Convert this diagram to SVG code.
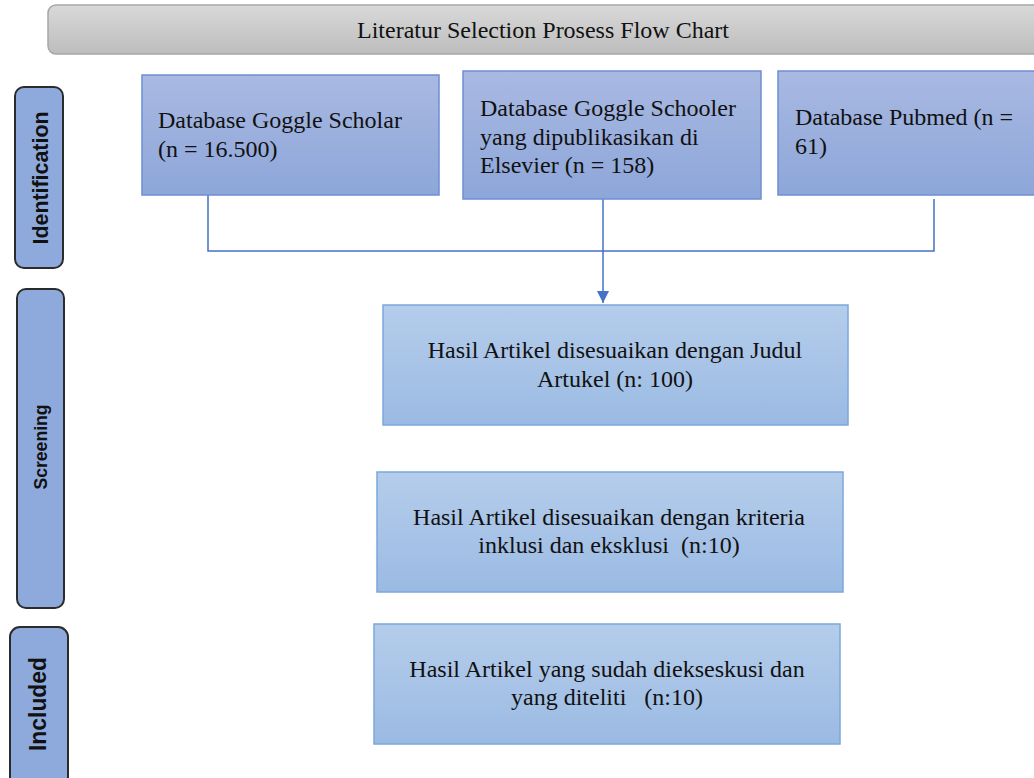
<svg xmlns="http://www.w3.org/2000/svg" width="1034" height="778" viewBox="0 0 1034 778">
<defs>
<linearGradient id="gTitle" x1="0" y1="0" x2="0" y2="1"><stop offset="0" stop-color="#d9d9d9"/><stop offset="1" stop-color="#bdbdbd"/></linearGradient>
<linearGradient id="gTop" x1="0" y1="0" x2="0" y2="1"><stop offset="0" stop-color="#a9b9e2"/><stop offset="1" stop-color="#8da6d9"/></linearGradient>
<linearGradient id="gLow" x1="0" y1="0" x2="0" y2="1"><stop offset="0" stop-color="#b5cdeb"/><stop offset="1" stop-color="#9bbae3"/></linearGradient>
<marker id="arr" viewBox="0 0 12 12" refX="12" refY="6" markerWidth="12" markerHeight="12" markerUnits="userSpaceOnUse" orient="auto"><path d="M0,0 L12,6 L0,12 Z" fill="#4472c4"/></marker>
</defs>
<style>
.box{font-family:"Liberation Serif","Times New Roman",serif;font-size:24px;fill:#111}
.ctr{text-anchor:middle}
.top{fill:url(#gTop);stroke:#6e8fd2;stroke-width:1.5}
.low{fill:url(#gLow);stroke:#7ba8dc;stroke-width:1.5}
.side{fill:#8eaadc;stroke:#2b2b2b;stroke-width:2}
.sl{font-family:"Liberation Sans",Arial,sans-serif;font-weight:bold;fill:#111;text-anchor:middle;dominant-baseline:central}
.con{fill:none;stroke:#4472c4;stroke-width:1.5}
</style>
<rect width="1034" height="778" fill="#ffffff"/>
<g id="title">
<rect x="48" y="5" width="1000" height="49" rx="8" fill="url(#gTitle)" stroke="#a6a6a6" stroke-width="1.5"/>
<text class="box ctr" x="543" y="38">Literatur Selection Prosess Flow Chart</text>
</g>
<g id="lbl-identification">
<rect class="side" x="15" y="87" width="48" height="181" rx="9"/>
<text class="sl" font-size="22" transform="translate(40,178) rotate(-90)" textLength="133" lengthAdjust="spacingAndGlyphs">Identification</text>
</g>
<g id="lbl-screening">
<rect class="side" x="17" y="289" width="47" height="319" rx="9"/>
<text class="sl" font-size="18" transform="translate(41,447) rotate(-90)" textLength="85" lengthAdjust="spacingAndGlyphs">Screening</text>
</g>
<g id="lbl-included">
<rect class="side" x="10" y="627" width="58" height="170" rx="10"/>
<text class="sl" font-size="23" transform="translate(38,704) rotate(-90)" textLength="94" lengthAdjust="spacingAndGlyphs">Included</text>
</g>
<g id="connectors">
<path class="con" d="M208,195 V251 H934 V199"/>
<path class="con" d="M603,199 V303" marker-end="url(#arr)"/>
</g>
<g id="n-scholar">
<rect class="top" x="142" y="75" width="297" height="120"/>
<text class="box" x="158" y="128">Database Goggle Scholar</text>
<text class="box" x="158" y="157">(n = 16.500)</text>
</g>
<g id="n-elsevier">
<rect class="top" x="463" y="71" width="298" height="128"/>
<text class="box" x="480" y="116">Database Goggle Schooler</text>
<text class="box" x="480" y="145">yang dipublikasikan di</text>
<text class="box" x="480" y="173">Elsevier (n = 158)</text>
</g>
<g id="n-pubmed">
<rect class="top" x="778" y="71" width="270" height="124"/>
<text class="box" x="795" y="125">Database Pubmed (n =</text>
<text class="box" x="795" y="154">61)</text>
</g>
<g id="n-judul">
<rect class="low" x="383" y="305" width="465" height="120"/>
<text class="box ctr" x="615" y="358">Hasil Artikel disesuaikan dengan Judul</text>
<text class="box ctr" x="615" y="387">Artukel (n: 100)</text>
</g>
<g id="n-kriteria">
<rect class="low" x="377" y="472" width="466" height="120"/>
<text class="box ctr" x="609" y="525">Hasil Artikel disesuaikan dengan kriteria</text>
<text class="box ctr" x="609" y="553" xml:space="preserve">inklusi dan eksklusi  (n:10)</text>
</g>
<g id="n-diteliti">
<rect class="low" x="374" y="624" width="466" height="120"/>
<text class="box ctr" x="607" y="677">Hasil Artikel yang sudah diekseskusi dan</text>
<text class="box ctr" x="607" y="705" xml:space="preserve">yang diteliti   (n:10)</text>
</g>
</svg>
